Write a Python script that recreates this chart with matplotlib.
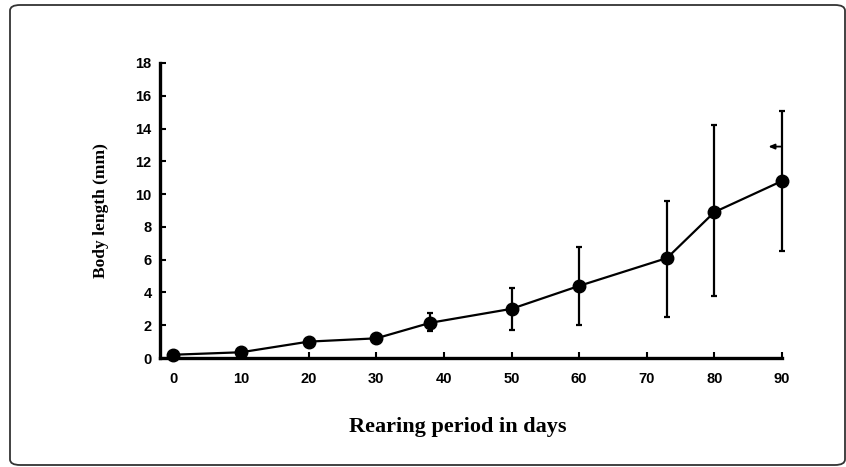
#!/usr/bin/env python3
"""Body length vs rearing period, mean with range bars."""

import matplotlib
matplotlib.use("Agg")
import matplotlib.pyplot as plt
from matplotlib.patches import FancyBboxPatch

DAYS = [0, 10, 20, 30, 38, 50, 60, 73, 80, 90]
LENGTH_MM = [0.2, 0.35, 1.0, 1.2, 2.15, 3.0, 4.4, 6.1, 8.9, 10.8]
ERR_LOW = [0.2, 0.35, 1.0, 1.2, 1.65, 1.7, 2.0, 2.5, 3.8, 6.5]
ERR_HIGH = [0.2, 0.35, 1.0, 1.2, 2.75, 4.3, 6.8, 9.6, 14.2, 15.1]
X_TICKS = [0, 10, 20, 30, 40, 50, 60, 70, 80, 90]
Y_TICKS = [0, 2, 4, 6, 8, 10, 12, 14, 16, 18]
# small pointer mark left of the last bar
MARK_X = 90
MARK_Y = 12.9

TICK_FONT = "Liberation Sans"
LABEL_FONT = "Liberation Serif"

fig = plt.figure(figsize=(8.46, 4.67), dpi=100)
ax = fig.add_axes([0.1891, 0.2334, 0.7352, 0.6317])

yerr = [
    [m - lo for m, lo in zip(LENGTH_MM, ERR_LOW)],
    [hi - m for m, hi in zip(LENGTH_MM, ERR_HIGH)],
]
line, caps, bars = ax.errorbar(
    DAYS,
    LENGTH_MM,
    yerr=yerr,
    color="black",
    marker="o",
    markersize=9,
    linewidth=1.6,
    elinewidth=1.6,
    capsize=2.5,
    capthick=1.6,
)
for artist in [line, *caps, *bars]:
    artist.set_clip_on(False)

ax.annotate(
    "",
    xy=(MARK_X - 2.0, MARK_Y),
    xytext=(MARK_X - 0.2, MARK_Y),
    arrowprops=dict(arrowstyle="-|>,head_length=0.35,head_width=0.15",
                    color="black", lw=1.3, shrinkA=0, shrinkB=0),
    annotation_clip=False,
)

ax.set_xlim(-2, 90)
ax.set_ylim(0, 18)
ax.set_xticks(X_TICKS)
ax.set_yticks(Y_TICKS)
for side in ("top", "right"):
    ax.spines[side].set_visible(False)
for side in ("left", "bottom"):
    ax.spines[side].set_linewidth(2.4)
ax.tick_params(axis="both", direction="in", length=4, width=1.5, pad=6)
ax.tick_params(axis="x", pad=10)
for lab in ax.get_xticklabels() + ax.get_yticklabels():
    lab.set_fontfamily(TICK_FONT)
    lab.set_fontweight("bold")
    lab.set_fontsize(10.5)

ax.set_xlabel("Rearing period in days", fontfamily=LABEL_FONT, fontweight="bold",
              fontsize=16)
ax.xaxis.set_label_coords(0.479, -0.20)
ax.set_ylabel("Body length (mm)", fontfamily=LABEL_FONT, fontweight="bold",
              fontsize=12.5, labelpad=19)

frame = FancyBboxPatch(
    (10 / 846, 2 / 467),
    835 / 846,
    460 / 467,
    boxstyle="round,pad=0,rounding_size=0.012",
    transform=fig.transFigure,
    fill=False,
    edgecolor="#333333",
    linewidth=1.3,
)
fig.patches.append(frame)

fig.savefig("out.png", dpi=100)
